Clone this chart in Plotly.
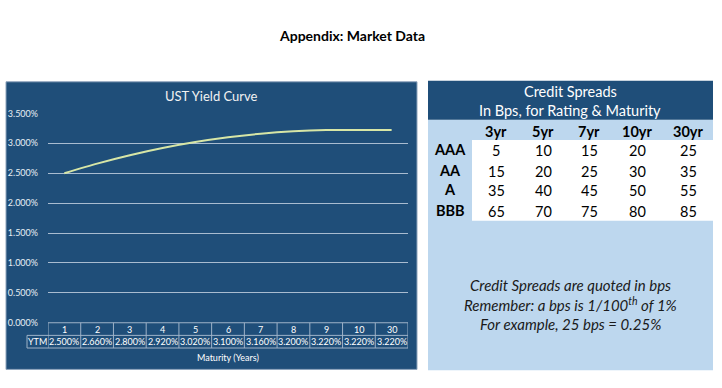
import plotly.graph_objects as go

# ---------------- data ----------------
maturities = ["1", "2", "3", "4", "5", "6", "7", "8", "9", "10", "30"]
ytm = [2.500, 2.660, 2.800, 2.920, 3.020, 3.100, 3.160, 3.200, 3.220, 3.220, 3.220]
y_ticks = [0.0, 0.5, 1.0, 1.5, 2.0, 2.5, 3.0, 3.5]

ratings = ["AAA", "AA", "A", "BBB"]
spread_tenors = ["3yr", "5yr", "7yr", "10yr", "30yr"]
spreads = [
    [5, 10, 15, 20, 25],
    [15, 20, 25, 30, 35],
    [35, 40, 45, 50, 55],
    [65, 70, 75, 80, 85],
]

page_title = "Appendix: Market Data"
chart_title = "UST Yield Curve"
x_title = "Maturity (Years)"
spread_title_lines = ["Credit Spreads", "In Bps, for Rating &amp; Maturity"]
note_lines = ["Credit Spreads are quoted in bps",
              "Remember: a bps is 1/100<sup>th</sup> of 1%",
              "For example, 25 bps = 0.25%"]

# ---------------- layout helpers ----------------
W, H = 722, 388
FONT = "Lato, 'Open Sans', sans-serif"
DARK = "#1F4E79"
LIGHT = "#BDD7EE"
LINE = "#D7E6A6"
GRIDC = "#9FB3C8"


def px(x):
    return x / W


def py(y):
    return 1 - y / H


fig = go.Figure()
xi = list(range(len(maturities)))
fig.add_trace(go.Scatter(
    x=xi, y=ytm, mode="lines",
    line=dict(color=LINE, width=2, shape="spline", smoothing=0.6),
    hoverinfo="skip", showlegend=False,
))

shapes = []
ann = []

# panels
shapes.append(dict(type="rect", xref="paper", yref="paper", layer="below",
                   x0=px(6), x1=px(417), y0=py(374), y1=py(78),
                   fillcolor=DARK, line=dict(color="#8EA4BC", width=1)))
shapes.append(dict(type="rect", xref="paper", yref="paper", layer="below",
                   x0=px(428), x1=px(713), y0=py(375), y1=py(117),
                   fillcolor=LIGHT, line=dict(width=0)))
shapes.append(dict(type="rect", xref="paper", yref="paper", layer="below",
                   x0=px(428), x1=px(713), y0=py(117), y1=py(77),
                   fillcolor=DARK, line=dict(width=0)))
shapes.append(dict(type="rect", xref="paper", yref="paper", layer="below",
                   x0=px(472), x1=px(713), y0=py(221), y1=py(138),
                   fillcolor="white", line=dict(width=0)))

# data table under the yield chart
T0, T1, T2 = 326, 339, 352
YL = 27
n = len(maturities)
tc = dict(color=GRIDC, width=1)
shapes.append(dict(type="line", xref="x", yref="paper", x0=-0.5, x1=n - 0.5,
                   y0=py(T0), y1=py(T0), line=tc))
for yy in (T1, T2):
    shapes.append(dict(type="line", xref="paper", yref="paper", x0=px(YL), x1=px(48),
                       y0=py(yy), y1=py(yy), line=tc))
    shapes.append(dict(type="line", xref="x", yref="paper", x0=-0.5, x1=n - 0.5,
                       y0=py(yy), y1=py(yy), line=tc))
shapes.append(dict(type="line", xref="paper", yref="paper", x0=px(YL), x1=px(YL),
                   y0=py(T2), y1=py(T1), line=tc))
for i in range(n + 1):
    shapes.append(dict(type="line", xref="x", yref="paper", x0=i - 0.5, x1=i - 0.5,
                       y0=py(T2), y1=py(T0), line=tc))
tf = dict(family=FONT, size=9, color="white")
for i, (m, v) in enumerate(zip(maturities, ytm)):
    ann.append(dict(x=i, y=py((T0 + T1) / 2), xref="x", yref="paper", text=m,
                    showarrow=False, font=tf, xanchor="center", yanchor="middle"))
    ann.append(dict(x=i, y=py((T1 + T2) / 2), xref="x", yref="paper", text=f"{v:.3f}%",
                    showarrow=False, font=tf, xanchor="center", yanchor="middle"))
ann.append(dict(x=px((YL + 48) / 2), y=py((T1 + T2) / 2), xref="paper", yref="paper",
                text="YTM", showarrow=False, font=tf, xanchor="center", yanchor="middle"))
ann.append(dict(x=(n - 1) / 2, y=py(362), xref="x", yref="paper", text=x_title,
                showarrow=False, font=dict(family=FONT, size=9, color="white"),
                xanchor="center", yanchor="middle"))

# titles
ann.append(dict(x=px(352), y=py(30), xref="paper", yref="paper", text=f"<b>{page_title}</b>",
                showarrow=False, font=dict(family=FONT, size=14, color="black"),
                xanchor="center", yanchor="middle"))
ann.append(dict(x=px(211), y=py(93), xref="paper", yref="paper", text=chart_title,
                showarrow=False, font=dict(family=FONT, size=13, color="#F2F2F2"),
                xanchor="center", yanchor="middle"))
for k, t in enumerate(spread_title_lines):
    ann.append(dict(x=px(570), y=py(88 + 20 * k), xref="paper", yref="paper", text=t,
                    showarrow=False, font=dict(family=FONT, size=14.5, color="white"),
                    xanchor="center", yanchor="middle"))

# spreads table
col_x = [496, 543, 589, 637, 688]
row_y = [149, 170, 190, 211]
head_y = 129
for cx, t in zip(col_x, spread_tenors):
    ann.append(dict(x=px(cx), y=py(head_y), xref="paper", yref="paper", text=f"<b>{t}</b>",
                    showarrow=False, font=dict(family=FONT, size=14.5, color="black"),
                    xanchor="center", yanchor="middle"))
for ry, r, vals in zip(row_y, ratings, spreads):
    ann.append(dict(x=px(450), y=py(ry - 1), xref="paper", yref="paper", text=f"<b>{r}</b>",
                    showarrow=False, font=dict(family=FONT, size=14.5, color="black"),
                    xanchor="center", yanchor="middle"))
    for cx, v in zip(col_x, vals):
        ann.append(dict(x=px(cx), y=py(ry), xref="paper", yref="paper", text=str(v),
                        showarrow=False, font=dict(family=FONT, size=14.5, color="black"),
                        xanchor="center", yanchor="middle"))

for k, t in enumerate(note_lines):
    ann.append(dict(x=px(570), y=py(287 + 20 * k), xref="paper", yref="paper",
                    text=f"<i>{t}</i>", showarrow=False,
                    font=dict(family=FONT, size=15, color="#1A1A1A"),
                    xanchor="center", yanchor="middle"))

fig.update_layout(
    width=W, height=H,
    margin=dict(l=0, r=0, t=0, b=0),
    paper_bgcolor="white",
    plot_bgcolor="rgba(0,0,0,0)",
    showlegend=False,
    shapes=shapes,
    annotations=ann,
    xaxis=dict(domain=[px(48), px(408)], range=[-0.5, n - 0.5], showgrid=False,
               zeroline=False, showticklabels=False, showline=False, fixedrange=True),
    yaxis=dict(domain=[py(326), py(110.5)], range=[0, 3.5], tickvals=y_ticks,
               ticktext=[f"{v:.3f}%" for v in y_ticks], showgrid=True,
               gridcolor="#A9BCD0", gridwidth=1, zeroline=False, showline=False,
               tickfont=dict(family=FONT, size=9, color="#E8EEF4"),
               ticklabelstandoff=9, fixedrange=True),
)

fig.write_html(
    "out.html", config={"displayModeBar": False},
    post_script=("document.body.style.margin='0';document.body.style.overflow='hidden';"
                 "var d=document.getElementById('{plot_id}');"
                 "d.style.position='fixed';d.style.top='0';d.style.left='0';"),
)
